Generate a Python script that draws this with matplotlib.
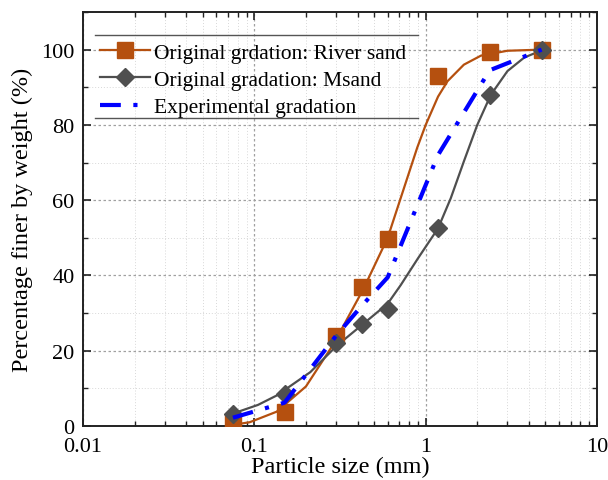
import matplotlib
matplotlib.use("Agg")
import matplotlib.pyplot as plt
from matplotlib.lines import Line2D
from matplotlib.ticker import LogLocator, MultipleLocator, NullFormatter, FixedLocator, FixedFormatter

plt.rcParams['font.family'] = ['Liberation Serif', 'DejaVu Serif']

# sieve sizes (mm)
sieve = [0.075, 0.15, 0.3, 0.425, 0.6, 1.18, 2.36, 4.75]
river_sand = [1.0, 3.7, 24.0, 37.0, 49.8, 93.0, 99.5, 100.0]
msand = [3.3, 8.6, 22.0, 27.0, 31.0, 52.5, 88.0, 100.0]
experimental = [2.2, 6.2, 24.0, 32.0, 39.5, 72.0, 94.5, 100.0]

# fitted curves
river_fit_x = [0.075, 0.094, 0.135, 0.20, 0.278, 0.304, 0.434, 0.60, 0.714,
               0.893, 1.0, 1.18, 1.34, 1.67, 2.10, 3.0, 4.75]
river_fit_y = [0.3, 1.0, 3.8, 10.5, 20.5, 23.5, 36.5, 50.0, 60.5,
               74.0, 80.0, 87.5, 91.6, 96.0, 98.4, 99.7, 100.0]
msand_fit_x = [0.075, 0.105, 0.135, 0.212, 0.304, 0.434, 0.60, 0.714, 0.9,
               1.18, 1.40, 1.67, 2.0, 2.40, 3.0, 3.76, 4.75]
msand_fit_y = [3.3, 5.6, 8.1, 14.3, 21.4, 27.2, 32.5, 37.4, 44.5,
               52.5, 60.5, 70.3, 80.0, 88.0, 94.3, 97.9, 99.8]

orange = '#b5500f'
grey = '#4f4f4f'
blue = '#0000ff'

fig = plt.figure(figsize=(6.08, 4.81), dpi=100)
ax = fig.add_axes([0.1365, 0.1123, 0.8455, 0.8607])

ax.plot(river_fit_x, river_fit_y, color=orange, lw=1.6, zorder=3)
ax.plot(sieve, river_sand, ls='none', marker='s', ms=11, color=orange, zorder=4)
ax.plot(msand_fit_x, msand_fit_y, color=grey, lw=1.6, zorder=3)
ax.plot(sieve, msand, ls='none', marker='D', ms=9.5, color=grey, zorder=4)
ax.plot(sieve, experimental, color=blue, lw=3, dashes=(5, 3, 1, 3), zorder=5)

ax.set_xscale('log')
ax.set_xlim(0.01, 10)
ax.set_ylim(0, 110)
ax.xaxis.set_major_locator(FixedLocator([0.01, 0.1, 1, 10]))
ax.xaxis.set_major_formatter(FixedFormatter(['0.01', '0.1', '1', '10']))
ax.xaxis.set_minor_locator(LogLocator(base=10, subs=range(2, 10), numticks=20))
ax.xaxis.set_minor_formatter(NullFormatter())
ax.yaxis.set_major_locator(FixedLocator([0, 20, 40, 60, 80, 100]))
ax.yaxis.set_minor_locator(MultipleLocator(10))

ax.tick_params(which='both', direction='in', top=True, right=True, labelsize=16, color='#222222')
ax.tick_params(which='major', length=6, width=1.2)
ax.tick_params(which='minor', length=3.5, width=1.0)
ax.tick_params(axis='x', pad=8)
ax.tick_params(axis='y', pad=6)
for s in ax.spines.values():
    s.set_linewidth(1.4)
    s.set_color('#222222')

ax.grid(which='major', ls=(0, (2, 2)), color='#a0a0a0', lw=0.9)
ax.grid(which='minor', ls=(0, (1, 2)), color='#d8d8d8', lw=0.7)
ax.set_axisbelow(True)

ax.set_xlabel('Particle size (mm)', fontsize=17.5, labelpad=0)
ax.set_ylabel('Percentage finer by weight (%)', fontsize=17.5, labelpad=6)

handles = [
    Line2D([], [], color=orange, lw=1.6, marker='s', ms=11),
    Line2D([], [], color=grey, lw=1.6, marker='D', ms=9.5),
    Line2D([], [], color=blue, lw=3, dashes=(5, 3, 1, 3)),
]
labels = ['Original grdation: River sand', 'Original gradation: Msand', 'Experimental gradation']
ax.legend(handles, labels, loc='upper left', bbox_to_anchor=(0.004, 0.962), frameon=False,
          fontsize=15.5, handlelength=2.3, handletextpad=0.2, labelspacing=0.33, borderpad=0.2)

for yy in (0.944, 0.744):
    ax.add_line(Line2D([0.023, 0.652], [yy, yy], transform=ax.transAxes, color='#555555', lw=1.0, zorder=6))

fig.savefig('out.png', dpi=100)
